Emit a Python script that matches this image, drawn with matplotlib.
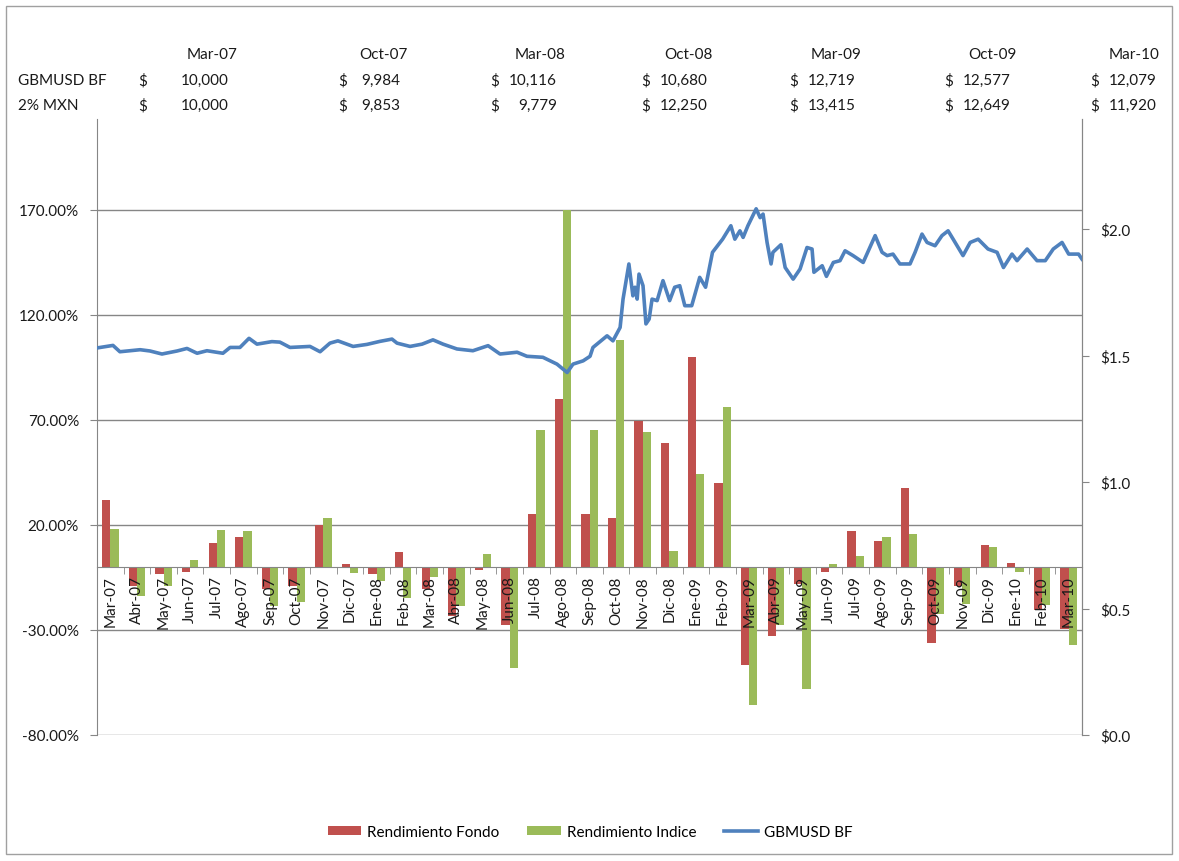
import numpy as np
import matplotlib.pyplot as plt
from matplotlib.patches import Rectangle, Patch
from matplotlib.lines import Line2D

plt.rcParams['font.family'] = ['Lato', 'DejaVu Sans']

# ── data ──
months = ["Mar-07", "Abr-07", "May-07", "Jun-07", "Jul-07", "Ago-07", "Sep-07",
          "Oct-07", "Nov-07", "Dic-07", "Ene-08", "Feb-08", "Mar-08", "Abr-08",
          "May-08", "Jun-08", "Jul-08", "Ago-08", "Sep-08", "Oct-08", "Nov-08",
          "Dic-08", "Ene-09", "Feb-09", "Mar-09", "Abr-09", "May-09", "Jun-09",
          "Jul-09", "Ago-09", "Sep-09", "Oct-09", "Nov-09", "Dic-09", "Ene-10",
          "Feb-10", "Mar-10"]

rend_fondo = [31.7, -9.2, -3.5, -2.2, 11.5, 14.1, -10.3, -9.2, 20.0, 1.4, -3.5,
              7.1, -10.3, -23.4, -1.6, -27.8, 25.3, 80.1, 25.3, 23.4, 69.7, 58.8,
              100.0, 40.1, -46.8, -32.9, -7.9, -2.2, 16.9, 12.2, 37.8, -36.0,
              -9.2, 10.3, 2.0, -20.4, -29.7]

rend_indice = [18.3, -13.6, -9.2, 3.3, 17.8, 17.0, -18.6, -16.7, 23.4, -2.8, -6.5,
               -14.8, -4.7, -18.5, 6.3, -47.9, 65.4, 170.1, 65.4, 108.0, 64.5, 7.7,
               44.5, 76.3, -65.7, -27.8, -58.0, 1.3, 5.1, 14.5, 15.8, -22.3,
               -17.5, 9.5, -2.2, -18.0, -37.0]

# GBMUSD BF price, time in months since Mar-07
line_t = [-0.5, 0.10, 0.36, 1.12, 1.49, 1.94, 2.51, 2.88, 3.26, 3.63, 4.23, 4.50,
          4.87, 5.21, 5.51, 6.07, 6.37, 6.75, 7.50, 7.88, 8.25, 8.55, 9.12, 9.64,
          10.13, 10.58, 10.77, 11.26, 11.71, 12.12, 12.50, 13.02, 13.62, 14.19,
          14.64, 15.28, 15.65, 16.25, 16.78, 17.16, 17.38, 17.76, 18.02, 18.13,
          18.66, 18.88, 19.15, 19.26, 19.48, 19.63, 19.71, 19.79, 19.86, 20.01,
          20.12, 20.24, 20.35, 20.54, 20.76, 21.01, 21.20, 21.39, 21.58, 21.84,
          22.14, 22.36, 22.62, 23.00, 23.31, 23.46, 23.65, 23.77, 23.95, 24.26,
          24.41, 24.52, 24.67, 24.82, 24.89, 25.19, 25.35, 25.65, 25.91, 26.17,
          26.36, 26.43, 26.74, 26.90, 27.16, 27.41, 27.60, 27.90, 28.28, 28.73,
          28.99, 29.18, 29.40, 29.66, 30.04, 30.23, 30.49, 30.68, 30.98, 31.24,
          31.47, 31.66, 32.03, 32.30, 32.60, 32.97, 33.31, 33.55, 33.87, 34.06,
          34.44, 34.81, 35.12, 35.42, 35.75, 36.00, 36.37, 36.50]
line_v = [1.530, 1.540, 1.515, 1.523, 1.518, 1.506, 1.518, 1.528, 1.509, 1.519,
          1.509, 1.532, 1.532, 1.568, 1.545, 1.555, 1.553, 1.532, 1.536, 1.515,
          1.549, 1.558, 1.536, 1.544, 1.556, 1.565, 1.549, 1.536, 1.545, 1.562,
          1.545, 1.526, 1.519, 1.539, 1.506, 1.513, 1.497, 1.493, 1.466, 1.433,
          1.466, 1.479, 1.497, 1.532, 1.578, 1.558, 1.611, 1.723, 1.862, 1.736,
          1.770, 1.723, 1.822, 1.776, 1.625, 1.644, 1.723, 1.717, 1.796, 1.717,
          1.770, 1.776, 1.697, 1.697, 1.809, 1.770, 1.908, 1.960, 2.013, 1.960,
          1.993, 1.967, 2.013, 2.080, 2.045, 2.059, 1.947, 1.862, 1.908, 1.938,
          1.848, 1.802, 1.842, 1.927, 1.921, 1.829, 1.855, 1.813, 1.868, 1.875,
          1.914, 1.895, 1.868, 1.974, 1.908, 1.895, 1.901, 1.862, 1.862, 1.908,
          1.980, 1.947, 1.934, 1.974, 1.993, 1.960, 1.895, 1.947, 1.960, 1.921,
          1.908, 1.848, 1.901, 1.875, 1.921, 1.875, 1.875, 1.921, 1.947, 1.901,
          1.901, 1.881]

# table above the chart
table_dates = ["Mar-07", "Oct-07", "Mar-08", "Oct-08", "Mar-09", "Oct-09", "Mar-10"]
table_gbm = [10000, 9984, 10116, 10680, 12719, 12577, 12079]
table_mxn = [10000, 9853, 9779, 12250, 13415, 12649, 11920]

RED = "#C0504D"
GREEN = "#9BBB59"
BLUE = "#4F81BD"
GRID = "#868686"
TXT = "#1a1a1a"

W, H = 1179, 862
fig = plt.figure(figsize=(W / 100, H / 100), dpi=100)

# outer chart border
fig.patches.append(Rectangle((6 / W, 7 / H), (W - 13) / W, (H - 14) / H,
                             transform=fig.transFigure, fill=False,
                             edgecolor="#a0a0a0", linewidth=1))

ax = fig.add_axes([97 / W, 1 - 736 / H, 985 / W, 616 / H])
x = np.arange(len(months))
bw = 0.31
ax.bar(x - bw / 2, rend_fondo, bw, color=RED, zorder=2)
ax.bar(x + bw / 2, rend_indice, bw, color=GREEN, zorder=2)

ax.set_xlim(-0.5, len(months) - 0.5)
ax.set_ylim(-80, 213.3)
ax.set_yticks(np.arange(-80, 171, 50))
ax.set_yticklabels([f"{v:.2f}%" for v in np.arange(-80, 171, 50)])
ax.yaxis.grid(True, color=GRID, linewidth=1)
ax.set_axisbelow(True)

ax.spines["top"].set_visible(False)
for s in ["left", "right", "bottom"]:
    ax.spines[s].set_color(GRID)
ax.spines["bottom"].set_position(("data", 0))

# category labels sit on top of the bars, as in Excel
ax.set_xticks(x)
ax.set_xticklabels([])
ax.set_xticks(np.arange(-0.5, len(months)), minor=True)
ax.tick_params(axis="x", which="major", length=0)
ax.tick_params(axis="x", which="minor", length=5, color=GRID)
for i, m in enumerate(months):
    ax.annotate(m, (i, 0), xytext=(0, -6), textcoords="offset points",
                rotation=90, ha="center", va="top", fontsize=11, color=TXT,
                zorder=5)
ax.tick_params(axis="y", length=5, color=GRID, labelsize=11, labelcolor=TXT, pad=8)

# secondary axis: price line
ax2 = ax.twinx()
ax2.plot(line_t, line_v, color=BLUE, linewidth=2.6, solid_joinstyle="round")
ax2.set_ylim(0, 2.435)
ax2.set_yticks(np.arange(0, 2.01, 0.5))
ax2.set_yticklabels([f"${v:.1f}" for v in np.arange(0, 2.01, 0.5)])
ax2.tick_params(axis="y", length=5, color=GRID, labelsize=11, labelcolor=TXT, pad=8)
for s in ["top", "bottom", "left"]:
    ax2.spines[s].set_visible(False)
ax2.spines["right"].set_color(GRID)

# table text above the chart
dollar_x = [138, 338, 490, 641, 789, 944, 1090]
num_r = [229, 400, 557, 708, 856, 1011, 1157]
hdr_r = [237, 408, 565, 713, 862, 1017, 1160]
rows_y = [55, 81, 106]
fs = 11
fig.text(18 / W, 1 - rows_y[1] / H, "GBMUSD BF", fontsize=fs, color=TXT, va="center")
fig.text(18 / W, 1 - rows_y[2] / H, "2% MXN", fontsize=fs, color=TXT, va="center")
for i, d in enumerate(table_dates):
    fig.text(hdr_r[i] / W, 1 - rows_y[0] / H, d, fontsize=fs, color=TXT,
             ha="right", va="center")
    for vals, ry in ((table_gbm, rows_y[1]), (table_mxn, rows_y[2])):
        fig.text(dollar_x[i] / W, 1 - ry / H, "$", fontsize=fs, color=TXT, va="center")
        fig.text(num_r[i] / W, 1 - ry / H, f"{vals[i]:,}", fontsize=fs, color=TXT,
                 ha="right", va="center")

handles = [Patch(facecolor=RED, label="Rendimiento Fondo"),
           Patch(facecolor=GREEN, label="Rendimiento Indice"),
           Line2D([0], [0], color=BLUE, linewidth=2.6, label="GBMUSD BF")]
fig.legend(handles=handles, loc="center", bbox_to_anchor=(590 / W, 1 - 833 / H),
           ncol=3, frameon=False, fontsize=11, handlelength=2.2, handleheight=0.6,
           columnspacing=1.8, handletextpad=0.4)

fig.savefig("out.png", dpi=100)
